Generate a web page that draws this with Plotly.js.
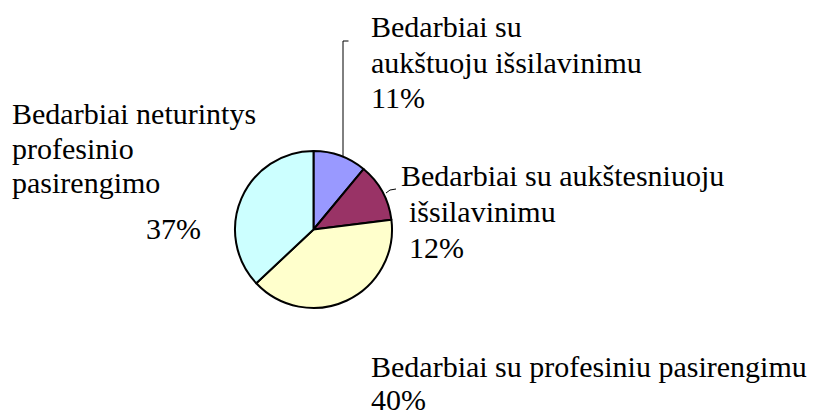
<!DOCTYPE html>
<html>
<head>
<meta charset="utf-8">
<script src="https://cdn.plot.ly/plotly-3.0.1.min.js"></script>
<style>html,body{margin:0;padding:0;background:#fff;}#chart{width:821px;height:414px;}</style>
</head>
<body>
<div id="chart"></div>
<script>
const categories = [
  "Bedarbiai su aukštuoju išsilavinimu",
  "Bedarbiai su aukštesniuoju išsilavinimu",
  "Bedarbiai su profesiniu pasirengimu",
  "Bedarbiai neturintys profesinio pasirengimo"
];
const values = [11, 12, 40, 37];
const colors = ["#9999FF", "#993366", "#FFFFCC", "#CCFFFF"];
// label lines as shown in the chart (last line is the percentage)
const labelLines = [
  ["Bedarbiai su", "aukštuoju išsilavinimu", "11%"],
  ["Bedarbiai su aukštesniuoju", "išsilavinimu", "12%"],
  ["Bedarbiai su profesiniu pasirengimu", "40%"],
  ["Bedarbiai neturintys", "profesinio", "pasirengimo", "37%"]
];

const W = 821, H = 414;
const FONT = {family: "'Liberation Serif', 'Times New Roman', Times, serif", size: 30, color: "#000"};
const px = x => x / W;
const py = y => 1 - y / H;

// layout positions (left x, baselines) in pixels for each label line
const labelPos = [
  [[371, 37], [371, 72], [371, 107]],
  [[401, 185], [409, 221], [409, 257]],
  [[371, 376], [371, 409]],
  [[12, 123], [12, 158], [12, 193], [146, 238]]
];

const annotations = [];
labelLines.forEach((lines, i) => {
  lines.forEach((t, j) => {
    const [x, b] = labelPos[i][j];
    annotations.push({
      text: t, xref: "paper", yref: "paper",
      x: px(x - 1), y: py(b - 10),
      xanchor: "left", yanchor: "middle",
      showarrow: false, font: FONT, borderpad: 0
    });
  });
});

const shapes = [
  {type: "path", xref: "paper", yref: "paper",
   path: `M ${px(343)} ${py(157)} L ${px(343)} ${py(41)} L ${px(348.5)} ${py(41)}`,
   line: {color: "#000", width: 1}},
  {type: "path", xref: "paper", yref: "paper",
   path: `M ${px(386)} ${py(193)} Q ${px(389)} ${py(189)} ${px(396)} ${py(189)}`,
   line: {color: "#000", width: 1}}
];

const trace = {
  type: "pie",
  labels: categories,
  values: values,
  sort: false,
  direction: "clockwise",
  rotation: 0,
  textinfo: "none",
  hoverinfo: "label+percent",
  marker: {colors: colors, line: {color: "#000", width: 2}},
  domain: {x: [px(235), px(392)], y: [py(308), py(151)]},
  showlegend: false
};

const layout = {
  width: W, height: H,
  margin: {l: 0, r: 0, t: 0, b: 0},
  paper_bgcolor: "#fff", plot_bgcolor: "#fff",
  showlegend: false,
  font: {family: "'Liberation Serif', 'Times New Roman', Times, serif"},
  annotations: annotations,
  shapes: shapes
};

Plotly.newPlot("chart", [trace], layout, {displayModeBar: false, staticPlot: true});
</script>
</body>
</html>
